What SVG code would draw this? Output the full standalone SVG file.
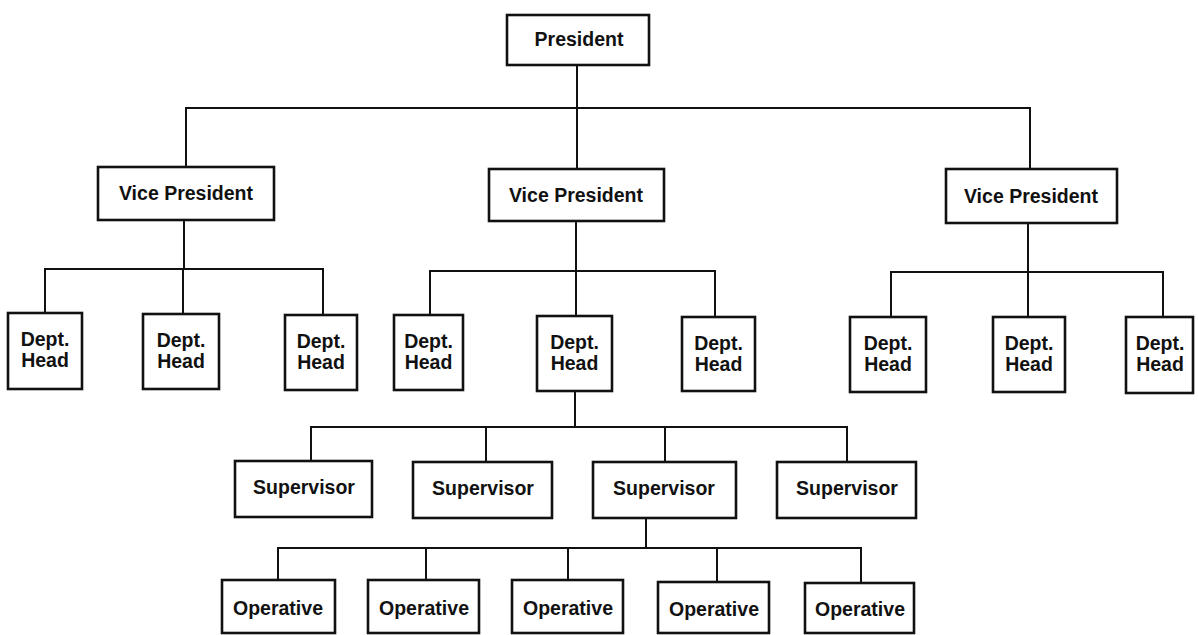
<svg xmlns="http://www.w3.org/2000/svg" width="1198" height="635" viewBox="0 0 1198 635">
<style>
.box{fill:#fff;stroke:#111;stroke-width:2.6}
.ln{fill:none;stroke:#111;stroke-width:2}
text{font-family:"Liberation Sans",Arial,sans-serif;font-weight:bold;font-size:19.5px;fill:#111;text-anchor:middle}
.dh{font-size:19px}
</style>
<rect width="1198" height="635" fill="#fff"/>
<g id="connectors" class="ln">
<path d="M577 65V169M186 167V108H1030V169"/>
<path d="M184 220V269M45 313V269H323V315M183 269V314"/>
<path d="M576 221V271M430 315V271H715V317M576 271V316"/>
<path d="M1028 223V272M891 317V272H1163V317M1028 272V317"/>
<path d="M575 391V427M311 461V427H847V462M486 427V462M665 427V462"/>
<path d="M646 518V548M278 580V548H861V583M426 548V580M568 548V580M717 548V582"/>
</g>
<g id="president"><rect class="box" x="507" y="15" width="142" height="50"/><text x="579" y="46">President</text></g>
<g id="vp1"><rect class="box" x="98" y="167" width="176" height="53"/><text x="186" y="200">Vice President</text></g>
<g id="vp2"><rect class="box" x="489" y="169" width="175" height="52"/><text x="576" y="202">Vice President</text></g>
<g id="vp3"><rect class="box" x="946" y="169" width="171" height="54"/><text x="1031" y="203">Vice President</text></g>
<g id="dept1" class="dh"><rect class="box" x="8" y="313" width="74" height="76"/><text x="45" y="346">Dept.</text><text x="45" y="367">Head</text></g>
<g id="dept2" class="dh"><rect class="box" x="143" y="314" width="76" height="75"/><text x="181" y="347">Dept.</text><text x="181" y="368">Head</text></g>
<g id="dept3" class="dh"><rect class="box" x="285" y="315" width="72" height="75"/><text x="321" y="348">Dept.</text><text x="321" y="369">Head</text></g>
<g id="dept4" class="dh"><rect class="box" x="394" y="315" width="69" height="75"/><text x="428.5" y="348">Dept.</text><text x="428.5" y="369">Head</text></g>
<g id="dept5" class="dh"><rect class="box" x="537" y="316" width="75" height="75"/><text x="574.5" y="349">Dept.</text><text x="574.5" y="370">Head</text></g>
<g id="dept6" class="dh"><rect class="box" x="682" y="317" width="73" height="74"/><text x="718.5" y="350">Dept.</text><text x="718.5" y="371">Head</text></g>
<g id="dept7" class="dh"><rect class="box" x="850" y="317" width="76" height="75"/><text x="888" y="350">Dept.</text><text x="888" y="371">Head</text></g>
<g id="dept8" class="dh"><rect class="box" x="993" y="317" width="72" height="75"/><text x="1029" y="350">Dept.</text><text x="1029" y="371">Head</text></g>
<g id="dept9" class="dh"><rect class="box" x="1126" y="317" width="67" height="76"/><text x="1160" y="350">Dept.</text><text x="1160" y="371">Head</text></g>
<g id="sup1"><rect class="box" x="235" y="461" width="137" height="56"/><text x="304" y="494">Supervisor</text></g>
<g id="sup2"><rect class="box" x="413" y="462" width="139" height="56"/><text x="483" y="495">Supervisor</text></g>
<g id="sup3"><rect class="box" x="593" y="462" width="143" height="56"/><text x="664" y="495">Supervisor</text></g>
<g id="sup4"><rect class="box" x="777" y="462" width="139" height="56"/><text x="847" y="495">Supervisor</text></g>
<g id="op1"><rect class="box" x="222" y="580" width="113" height="53"/><text x="278" y="615">Operative</text></g>
<g id="op2"><rect class="box" x="368" y="580" width="111" height="53"/><text x="424" y="615">Operative</text></g>
<g id="op3"><rect class="box" x="512" y="580" width="111" height="53"/><text x="568" y="615">Operative</text></g>
<g id="op4"><rect class="box" x="658" y="582" width="111" height="51"/><text x="714" y="616">Operative</text></g>
<g id="op5"><rect class="box" x="805" y="583" width="109" height="50"/><text x="860" y="616">Operative</text></g>
</svg>
